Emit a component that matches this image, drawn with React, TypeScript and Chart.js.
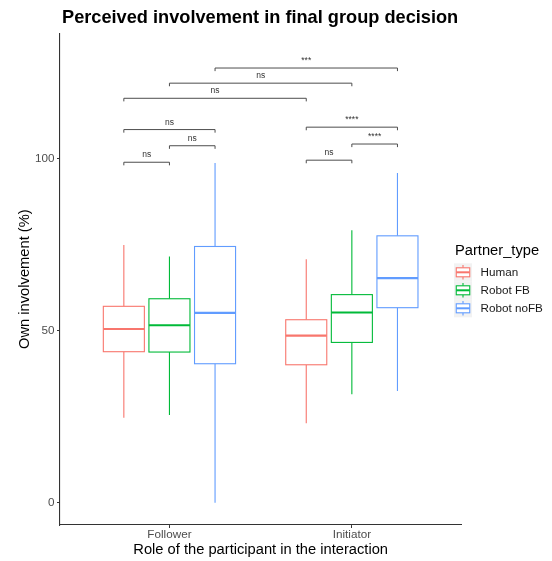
import React, { useEffect, useRef } from 'react';
import { Chart, registerables } from 'chart.js';

Chart.register(...registerables);

const FONT = '"Liberation Sans", Arial, Helvetica, sans-serif';

const chartTitle = 'Perceived involvement in final group decision';
const xAxisTitle = 'Role of the participant in the interaction';
const yAxisTitle = 'Own involvement (%)';
const legendTitle = 'Partner_type';

const roles = ['Follower', 'Initiator'];
const partnerTypes = ['Human', 'Robot FB', 'Robot noFB'];
const partnerColors = ['#F8766D', '#00BA38', '#619CFF'];

// per role (Follower, Initiator): [lower whisker, Q1, median, Q3, upper whisker]
const humanStats = [
  [24.7, 43.9, 50.5, 57.1, 74.9],
  [23.1, 40.1, 48.6, 53.2, 70.8],
];
const robotFBStats = [
  [25.5, 43.8, 51.6, 59.3, 71.6],
  [31.5, 46.6, 55.3, 60.5, 79.2],
];
const robotNoFBStats = [
  [0.0, 40.4, 55.2, 74.5, 98.8],
  [32.5, 56.7, 65.3, 77.6, 95.9],
];
const statsByPartner = [humanStats, robotFBStats, robotNoFBStats];

const yTickValues = [0, 50, 100];

// significance brackets: endpoints as [roleIndex, partnerIndex]
const bracketFrom = [[0, 0], [0, 1], [0, 0], [1, 0], [1, 1], [1, 0], [0, 0], [0, 1], [0, 2]];
const bracketTo = [[0, 1], [0, 2], [0, 2], [1, 1], [1, 2], [1, 2], [1, 0], [1, 1], [1, 2]];
const bracketY = [99.0, 103.8, 108.5, 99.6, 104.3, 109.2, 117.6, 122.0, 126.4];
const bracketLabels = ['ns', 'ns', 'ns', 'ns', '****', '****', 'ns', 'ns', '***'];

const DODGE = 0.25;
const BOX_WIDTH = 0.225;
const TIP = 0.9;

const groupX = (role: number, partner: number) => role + 1 + (partner - 1) * DODGE;

const boxPlugin = {
  id: 'boxPlugin',
  afterDatasetsDraw(chart: any) {
    const { ctx, scales } = chart;
    const xs = scales.x;
    const ys = scales.y;
    ctx.save();
    statsByPartner.forEach((stats, p) => {
      const color = partnerColors[p];
      stats.forEach((s, r) => {
        const cx = xs.getPixelForValue(groupX(r, p));
        const x0 = xs.getPixelForValue(groupX(r, p) - BOX_WIDTH / 2);
        const x1 = xs.getPixelForValue(groupX(r, p) + BOX_WIDTH / 2);
        const yMin = ys.getPixelForValue(s[0]);
        const yQ1 = ys.getPixelForValue(s[1]);
        const yMed = ys.getPixelForValue(s[2]);
        const yQ3 = ys.getPixelForValue(s[3]);
        const yMax = ys.getPixelForValue(s[4]);
        ctx.strokeStyle = color;
        ctx.lineWidth = 1.1;
        ctx.beginPath();
        ctx.moveTo(cx, yQ3);
        ctx.lineTo(cx, yMax);
        ctx.moveTo(cx, yQ1);
        ctx.lineTo(cx, yMin);
        ctx.stroke();
        ctx.fillStyle = '#FFFFFF';
        ctx.fillRect(x0, yQ3, x1 - x0, yQ1 - yQ3);
        ctx.strokeRect(x0, yQ3, x1 - x0, yQ1 - yQ3);
        ctx.lineWidth = 2.2;
        ctx.beginPath();
        ctx.moveTo(x0, yMed);
        ctx.lineTo(x1, yMed);
        ctx.stroke();
      });
    });
    ctx.strokeStyle = '#4D4D4D';
    ctx.fillStyle = '#333333';
    ctx.lineWidth = 1;
    ctx.font = `8.5px ${FONT}`;
    ctx.textAlign = 'center';
    ctx.textBaseline = 'alphabetic';
    bracketY.forEach((yv, i) => {
      const a = bracketFrom[i];
      const b = bracketTo[i];
      const xa = xs.getPixelForValue(groupX(a[0], a[1]));
      const xb = xs.getPixelForValue(groupX(b[0], b[1]));
      const y = ys.getPixelForValue(yv);
      const yt = ys.getPixelForValue(yv - TIP);
      ctx.beginPath();
      ctx.moveTo(xa, yt);
      ctx.lineTo(xa, y);
      ctx.lineTo(xb, y);
      ctx.lineTo(xb, yt);
      ctx.stroke();
      ctx.fillText(bracketLabels[i], (xa + xb) / 2, y - 5);
    });
    ctx.restore();
  },
  afterDraw(chart: any) {
    const { ctx, chartArea } = chart;
    ctx.save();
    ctx.fillStyle = '#000000';
    ctx.font = `bold 18.2px ${FONT}`;
    ctx.textAlign = 'left';
    ctx.textBaseline = 'alphabetic';
    ctx.fillText(chartTitle, chartArea.left + 2, 22.7);
    const lx = 454;
    ctx.font = `14.7px ${FONT}`;
    ctx.fillStyle = '#000000';
    ctx.fillText(legendTitle, lx + 1, 255);
    const key = 18;
    partnerTypes.forEach((name, i) => {
      const ky = 263.3 + i * key;
      ctx.fillStyle = '#F2F2F2';
      ctx.fillRect(lx, ky, key, key);
      const cx = lx + key / 2;
      ctx.strokeStyle = partnerColors[i];
      ctx.lineWidth = 1.1;
      ctx.beginPath();
      ctx.moveTo(cx, ky + key * 0.1);
      ctx.lineTo(cx, ky + key * 0.25);
      ctx.moveTo(cx, ky + key * 0.75);
      ctx.lineTo(cx, ky + key * 0.9);
      ctx.stroke();
      ctx.fillStyle = '#FFFFFF';
      ctx.fillRect(lx + key * 0.125, ky + key * 0.25, key * 0.75, key * 0.5);
      ctx.strokeRect(lx + key * 0.125, ky + key * 0.25, key * 0.75, key * 0.5);
      ctx.lineWidth = 2;
      ctx.beginPath();
      ctx.moveTo(lx + key * 0.125, ky + key / 2);
      ctx.lineTo(lx + key * 0.875, ky + key / 2);
      ctx.stroke();
      ctx.fillStyle = '#1A1A1A';
      ctx.font = `11.7px ${FONT}`;
      ctx.textBaseline = 'middle';
      ctx.fillText(name, lx + 26.5, ky + key / 2 + 0.5);
      ctx.textBaseline = 'alphabetic';
    });
    ctx.restore();
  },
};

export default function App() {
  const canvasRef = useRef<HTMLCanvasElement | null>(null);

  useEffect(() => {
    if (!canvasRef.current) return;
    const datasets = partnerTypes.map((name, p) => ({
      label: name,
      data: statsByPartner[p].map((s, r) => ({ x: groupX(r, p), y: s[2] })),
      borderColor: partnerColors[p],
      backgroundColor: partnerColors[p],
      pointRadius: 0,
      showLine: false,
    }));
    const chart = new Chart(canvasRef.current, {
      type: 'scatter',
      data: { datasets },
      options: {
        animation: false,
        responsive: false,
        events: [],
        layout: { padding: { top: 33.3, right: 90.7, left: 0, bottom: 0 } },
        plugins: {
          legend: { display: false },
          title: { display: false },
          tooltip: { enabled: false },
        },
        scales: {
          x: {
            type: 'linear',
            min: 0.4,
            max: 2.6,
            afterBuildTicks: (scale: any) => {
              scale.ticks = roles.map((_, i) => ({ value: i + 1 }));
            },
            afterFit: (scale: any) => {
              scale.height = 36;
            },
            ticks: {
              callback: (_v: any, i: number) => roles[i],
              color: '#4D4D4D',
              font: { family: FONT, size: 11.7 },
              padding: 0,
              maxRotation: 0,
            },
            grid: {
              display: true,
              drawOnChartArea: false,
              drawTicks: true,
              tickLength: 3,
              color: '#333333',
              lineWidth: 1,
            },
            border: { display: true, color: '#333333', width: 1.1 },
            title: {
              display: true,
              text: xAxisTitle,
              color: '#000000',
              font: { family: FONT, size: 14.7 },
              padding: { top: 0, bottom: 2.2 },
            },
          },
          y: {
            type: 'linear',
            min: -6.5,
            max: 136.5,
            afterBuildTicks: (scale: any) => {
              scale.ticks = yTickValues.map((v) => ({ value: v }));
            },
            afterFit: (scale: any) => {
              scale.width = 60;
            },
            ticks: {
              callback: (v: any) => String(v),
              color: '#4D4D4D',
              font: { family: FONT, size: 11.7 },
              padding: 2.5,
            },
            grid: {
              display: true,
              drawOnChartArea: false,
              drawTicks: true,
              tickLength: 3,
              color: '#333333',
              lineWidth: 1,
            },
            border: { display: true, color: '#333333', width: 1.1 },
            title: {
              display: true,
              text: yAxisTitle,
              color: '#000000',
              font: { family: FONT, size: 14.7 },
              padding: { top: 16.5, bottom: 0 },
            },
          },
        },
      },
      plugins: [boxPlugin],
    } as any);
    return () => chart.destroy();
  }, []);

  return (
    <div style={{ position: 'fixed', left: 0, top: 0, width: 552, height: 561, background: '#FFFFFF' }}>
      <canvas ref={canvasRef} width={552} height={561} style={{ display: 'block' }} />
    </div>
  );
}
